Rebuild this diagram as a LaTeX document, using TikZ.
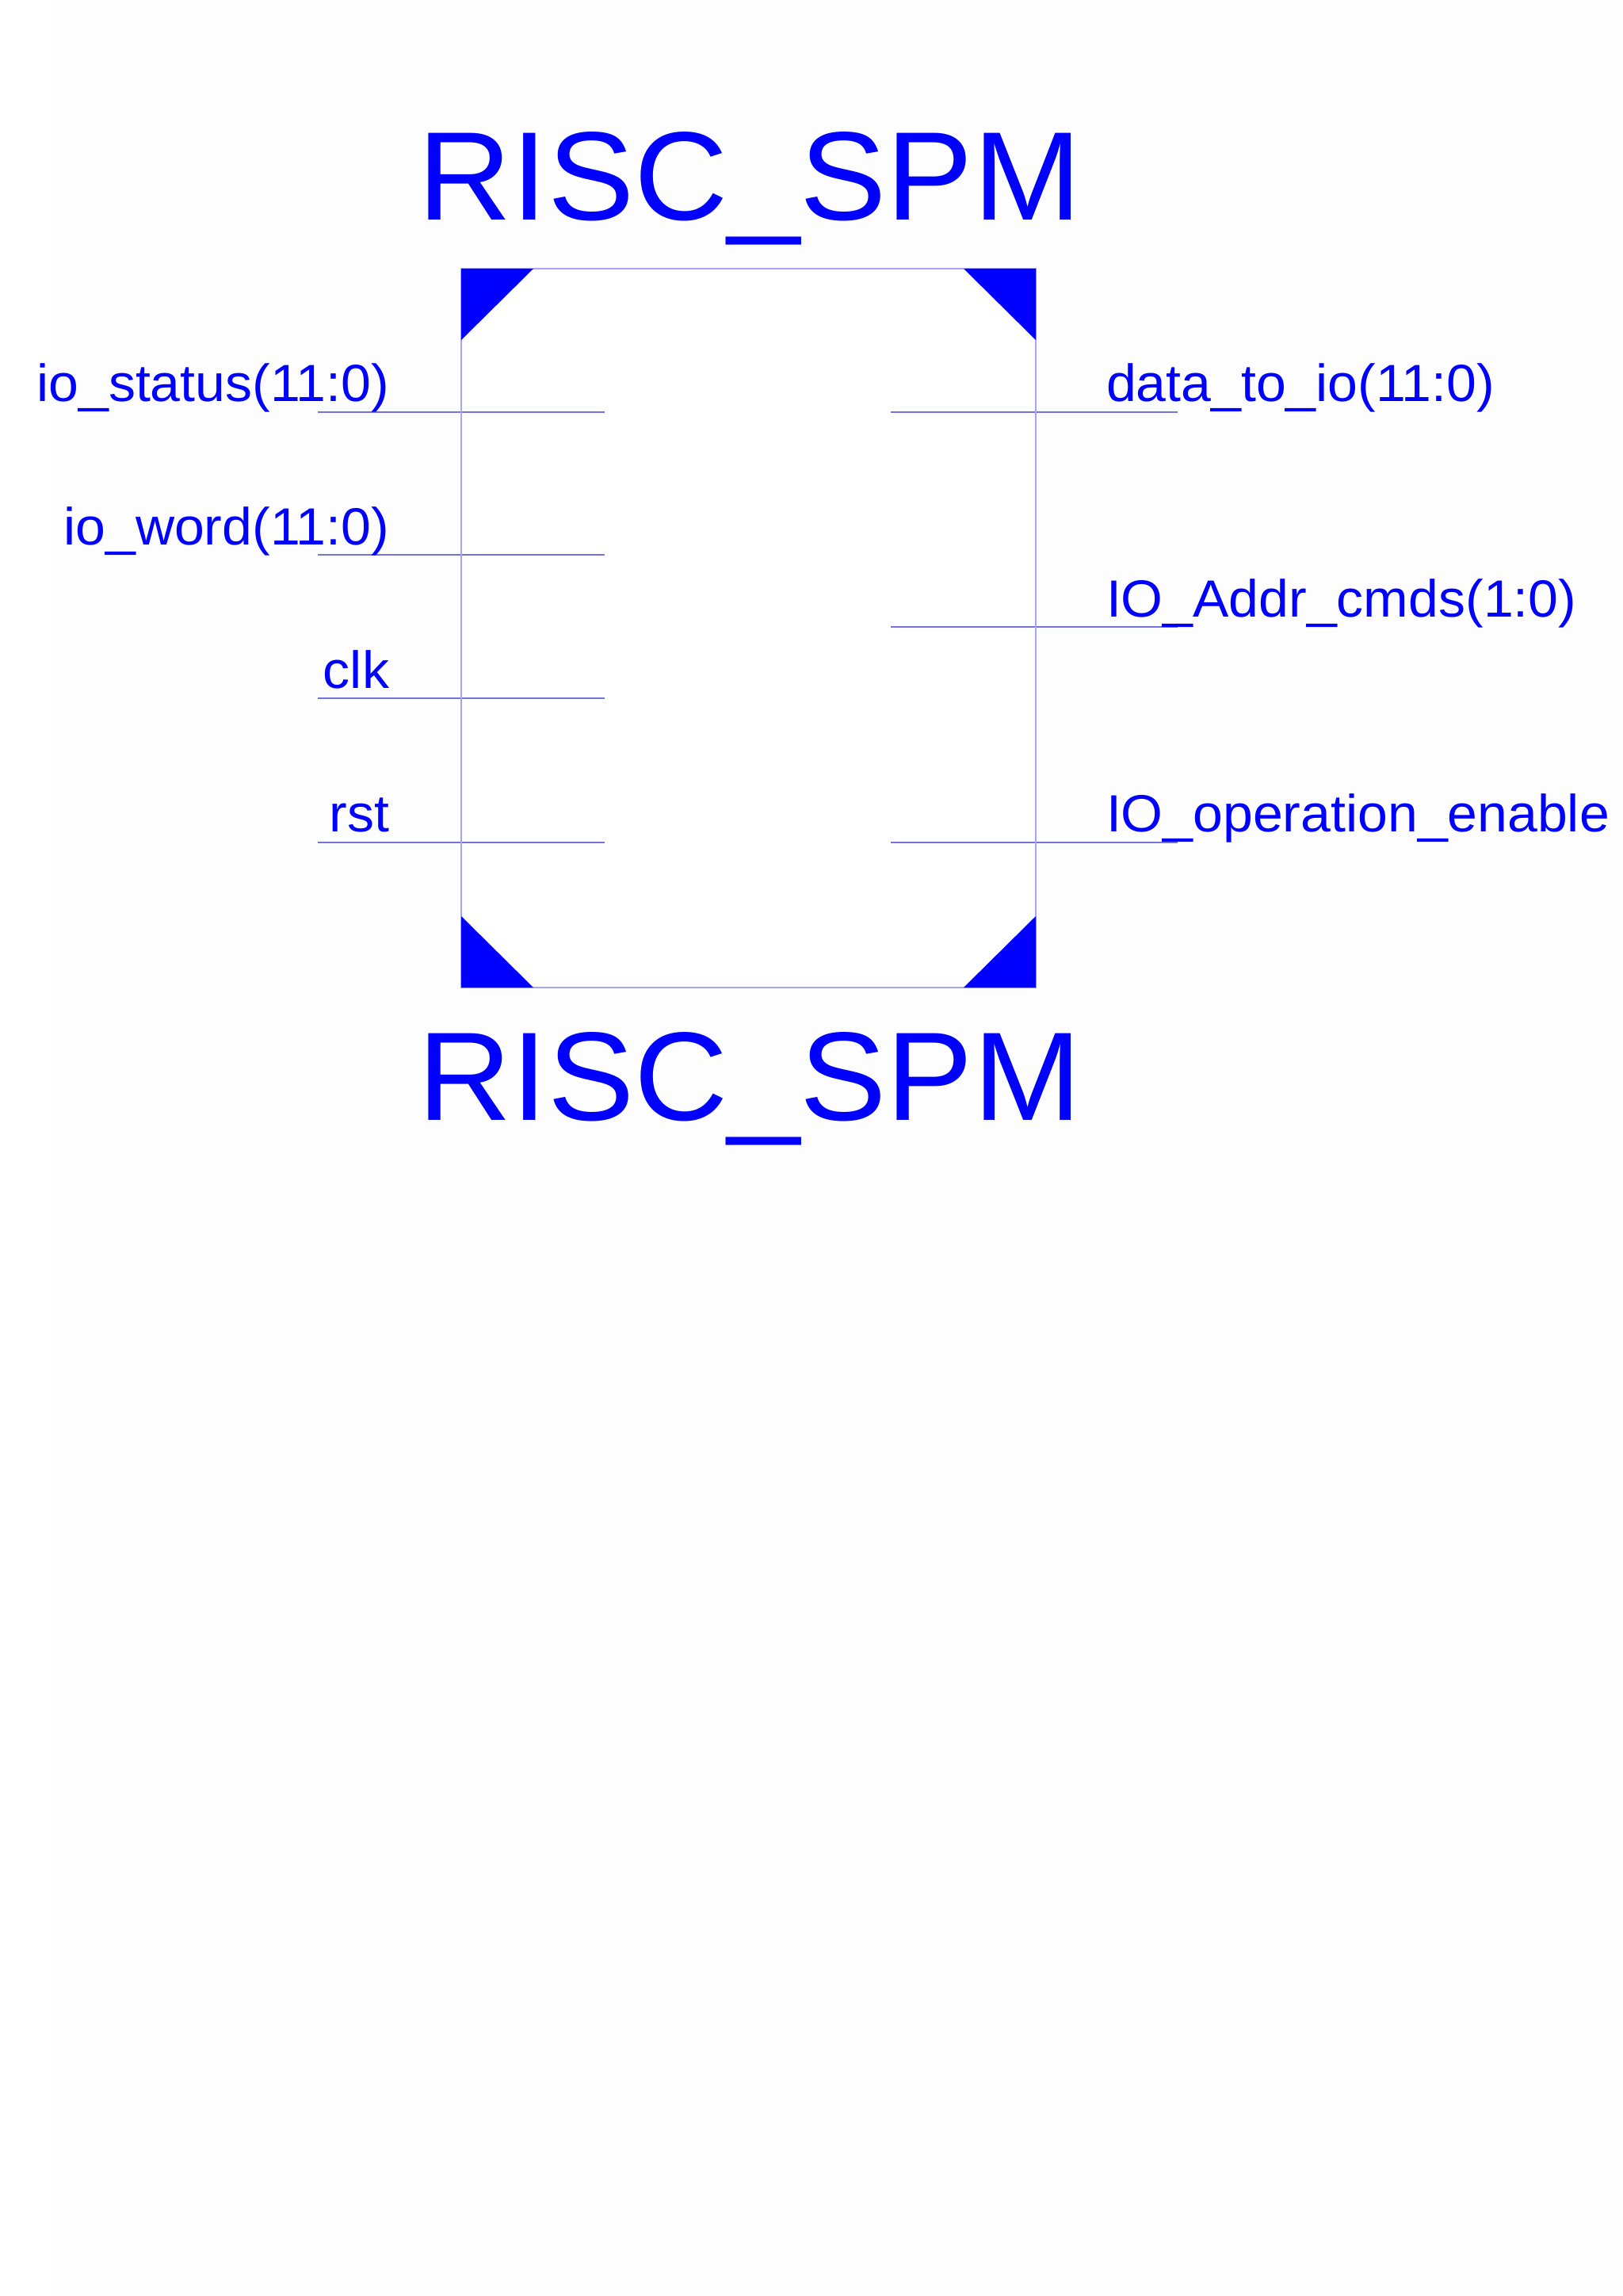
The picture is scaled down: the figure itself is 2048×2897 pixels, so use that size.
\documentclass[tikz,border=0pt]{standalone}
\usepackage{fontspec}
\usepackage{graphicx}
\setmainfont{Liberation Sans}
\definecolor{pinblue}{RGB}{0,0,255}
\definecolor{wirec}{RGB}{115,115,222}
\definecolor{framec}{RGB}{165,165,255}
\definecolor{bgc}{RGB}{253,253,253}
\newcommand{\wtxt}[1]{\scalebox{1.03}[1]{#1}}
\begin{document}
\begin{tikzpicture}[x=0.5pt,y=-0.5pt,
  lbl/.style={inner sep=0pt, outer sep=0pt, text=pinblue, font=\fontsize{33}{40}\selectfont},
  titlelbl/.style={inner sep=0pt, outer sep=0pt, text=pinblue, font=\fontsize{79.5}{90}\selectfont, anchor=base},
  wire/.style={draw=wirec, line width=1pt},
  corner/.style={fill=pinblue}]
\useasboundingbox (0,0) rectangle (2048,2897);
\fill[white] (0,0) rectangle (2048,2897);
\fill[bgc] (64,0) rectangle (2048,2897);
% block
\node (box) [rectangle, fill=white, minimum width=362.5pt, minimum height=453.5pt, inner sep=0pt, outer sep=0pt] at (944.5,792.5) {};
% titles
\node (ttop) [titlelbl] at (946,277) {\wtxt{RISC\_SPM}};
\node (tbot) [titlelbl] at (946,1413) {\wtxt{RISC\_SPM}};
% input pins
\coordinate (i1a) at (401,520);  \coordinate (i1b) at (763,520);
\coordinate (i2a) at (401,700);  \coordinate (i2b) at (763,700);
\coordinate (i3a) at (401,881);  \coordinate (i3b) at (763,881);
\coordinate (i4a) at (401,1063); \coordinate (i4b) at (763,1063);
\draw[wire] (i1a) -- (i1b);
\draw[wire] (i2a) -- (i2b);
\draw[wire] (i3a) -- (i3b);
\draw[wire] (i4a) -- (i4b);
% output pins
\coordinate (o1a) at (1124,520);  \coordinate (o1b) at (1486,520);
\coordinate (o2a) at (1124,791);  \coordinate (o2b) at (1486,791);
\coordinate (o3a) at (1124,1063); \coordinate (o3b) at (1486,1063);
\draw[wire] (o1a) -- (o1b);
\draw[wire] (o2a) -- (o2b);
\draw[wire] (o3a) -- (o3b);
% frame
\draw[draw=framec, line width=1pt] (box.north west) rectangle (box.south east);
% corner marks
\fill[corner] (box.north west) -- ++(91,0) -- ++(-91,90) -- cycle;
\fill[corner] (box.north east) -- ++(-91,0) -- ++(91,90) -- cycle;
\fill[corner] (box.south west) -- ++(91,0) -- ++(-91,-90) -- cycle;
\fill[corner] (box.south east) -- ++(-91,0) -- ++(91,-90) -- cycle;
% labels
\node (l1) [lbl, anchor=base east] at (491,506) {\wtxt{io\_status(11:0)}};
\node (l2) [lbl, anchor=base east] at (491,687) {\wtxt{io\_word(11:0)}};
\node (l3) [lbl, anchor=base east] at (491,868) {\wtxt{clk}};
\node (l4) [lbl, anchor=base east] at (491,1049) {\wtxt{rst}};
\node (r1) [lbl, anchor=base west] at (1396,506) {\wtxt{data\_to\_io(11:0)}};
\node (r2) [lbl, anchor=base west] at (1396,778) {\wtxt{IO\_Addr\_cmds(1:0)}};
\node (r3) [lbl, anchor=base west] at (1396,1049) {\wtxt{IO\_operation\_enable}};
\end{tikzpicture}
\end{document}
